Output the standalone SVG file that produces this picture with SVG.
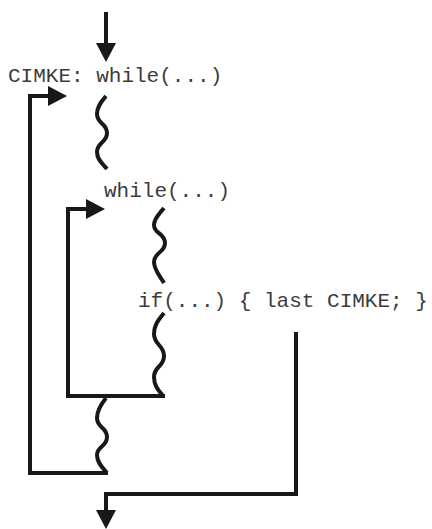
<svg xmlns="http://www.w3.org/2000/svg" width="432" height="529" viewBox="0 0 432 529">
  <style>
    .code { font-family: "Liberation Mono", "Courier New", monospace; font-size: 21px; fill: #3c3c3c; }
    .flow { fill: none; stroke: #1a1718; stroke-width: 4; stroke-linejoin: miter; }
    .elide { fill: none; stroke: #1a1718; stroke-width: 4; stroke-linecap: butt; }
  </style>
  <defs>
    <marker id="head" viewBox="0 0 19 20" markerWidth="19" markerHeight="20" refX="2" refY="10" orient="auto" markerUnits="userSpaceOnUse">
      <path d="M0,0 L19,10 L0,20 z" fill="#1a1718"/>
    </marker>
  </defs>

  <!-- statements -->
  <g id="outer-loop">
    <text class="code" x="8" y="82">CIMKE: while(...)</text>
  </g>
  <g id="inner-loop">
    <text class="code" x="104" y="197">while(...)</text>
  </g>
  <g id="exit-test">
    <text class="code" x="138" y="307">if(...) { last CIMKE; }</text>
  </g>

  <!-- control flow -->
  <g id="connectors">
    <!-- entry -->
    <path class="flow" d="M106,12 V45" marker-end="url(#head)"/>
    <!-- elided body of outer loop -->
    <path class="elide" d="M106,96 C102,101 97,106 97,114 C97,124 107,123 107,133 C107,143 97,142 97,152 C97,160 103,164 107,169"/>
    <!-- elided body of inner loop, before and after the test -->
    <path class="elide" d="M164,208 C160,213 154,218 154,225 C154,234 165,233 165,243 C165,253 154,252 154,262 C154,270 160,276 164,283"/>
    <path class="elide" d="M164,313 C160,318 154,324 154,334 C154,345 164,345 164,356 C164,367 154,366 154,377 C154,386 159,391 163,396"/>
    <!-- inner loop back edge -->
    <path class="flow" d="M165,396 H68 V209 H88" marker-end="url(#head)"/>
    <!-- rest of outer loop body -->
    <path class="elide" d="M106,398 C102,403 97,410 97,418 C97,428 107,427 107,437 C107,447 97,446 97,455 C97,463 103,468 107,473"/>
    <!-- outer loop back edge -->
    <path class="flow" d="M108,473 H30 V96 H50" marker-end="url(#head)"/>
    <!-- last CIMKE: leave both loops -->
    <path class="flow" d="M296,332 V494 H106 V512" marker-end="url(#head)"/>
  </g>
</svg>
